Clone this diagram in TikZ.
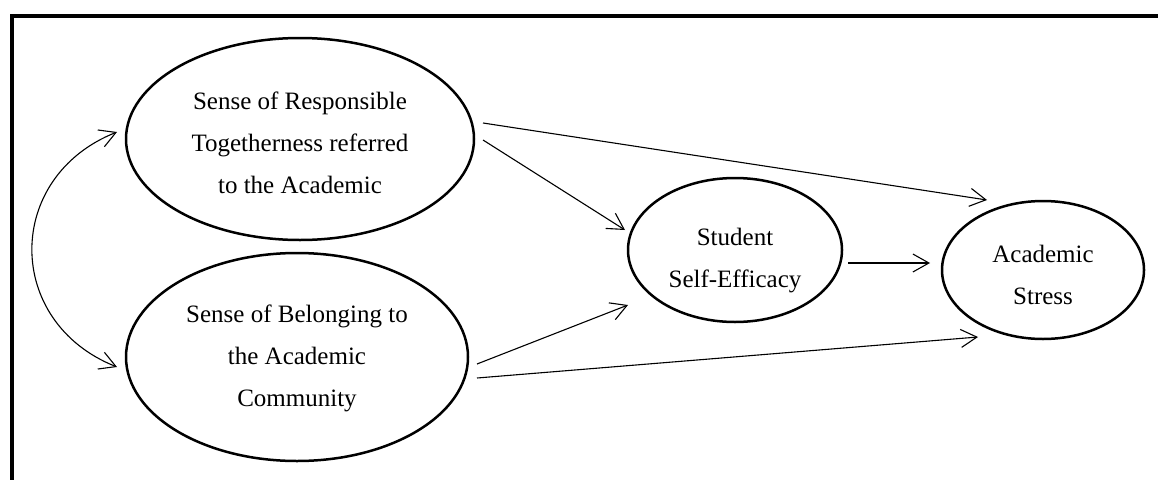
\documentclass[tikz,border=0pt]{standalone}
\usepackage{fontspec}
\setmainfont{Liberation Serif}
\usetikzlibrary{shapes.geometric,arrows.meta}
\tikzset{
  latent/.style={draw, ellipse, line width=2.5pt, inner sep=0pt},
  lbl/.style={font=\fontsize{25}{42}\selectfont, align=center},
  arr/.style={line width=1.1pt, -{Straight Barb[length=16pt,width=18pt,line width=1.1pt]}},
  darr/.style={line width=1.1pt, {Straight Barb[length=16pt,width=18pt,line width=1.1pt]}-{Straight Barb[length=16pt,width=18pt,line width=1.1pt]}},
}
\begin{document}
\begin{tikzpicture}[x=1pt,y=-1pt]
\useasboundingbox (0,0) rectangle (1158,479);
% frame
\draw[line width=4pt, line join=miter] (11.7,481) -- (11.7,16.3) -- (1160,16.3);
% latent variables
\node[latent, minimum width=348pt, minimum height=202pt,
  label={[lbl, yshift=-4pt]center:{Sense of Responsible\\Togetherness referred\\to the Academic}}] (A) at (300,139) {};
\node[latent, minimum width=342pt, minimum height=208pt,
  label={[lbl, yshift=-1pt]center:{Sense of Belonging to\\the Academic\\Community}}] (B) at (297,357) {};
\node[latent, minimum width=214pt, minimum height=144pt,
  label={[lbl, yshift=-11pt]center:{Student\\Self-Efficacy}}] (C) at (735,250) {};
\node[latent, minimum width=202pt, minimum height=138pt,
  label={[lbl, yshift=-5pt]center:{Academic\\Stress}}] (D) at (1043,270) {};
% paths
\draw[arr] ([shift={(183,-16)}]A.center) -- ([shift={(-56,-70)}]D.center);
\draw[arr] ([shift={(183,1)}]A.center) -- ([shift={(-110,-20)}]C.center);
\draw[arr] ([shift={(113,13)}]C.center) -- ([shift={(-113,-7)}]D.center);
\draw[arr] ([shift={(180,7)}]B.center) -- ([shift={(-107,55)}]C.center);
\draw[arr] ([shift={(180,21)}]B.center) -- ([shift={(-65,67)}]D.center);
% correlation
\draw[darr] ([shift={(-183,-7)}]A.center) .. controls (4,177) and (4,322) .. ([shift={(-180,10)}]B.center);
\end{tikzpicture}
\end{document}
